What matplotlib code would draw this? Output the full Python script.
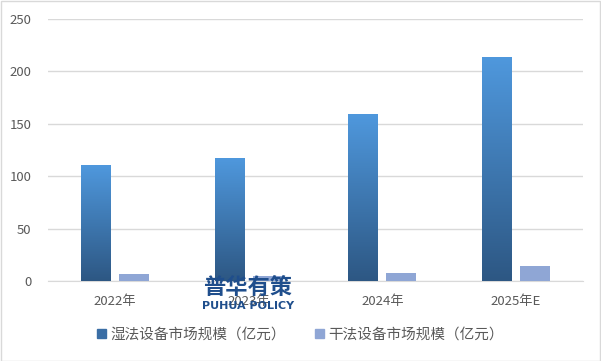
import numpy as np
import matplotlib.pyplot as plt
from matplotlib.colors import LinearSegmentedColormap
from matplotlib.patches import Rectangle

plt.rcParams["font.family"] = ["Noto Sans CJK SC", "DejaVu Sans"]

# -------------------- Data --------------------
years = ["2022年", "2023年", "2024年", "2025年E"]
wet_values = [110, 117, 159, 213]
dry_values = [7, 5, 8, 14.5]
wet_label = "湿法设备市场规模（亿元）"
dry_label = "干法设备市场规模（亿元）"
y_ticks = [0, 50, 100, 150, 200, 250]

# -------------------- Style --------------------
W, H, DPI = 601, 361, 100
BAR_W = 0.224
OFFSET = 0.142
WET_TOP = "#4f98dd"
WET_BOTTOM = "#2d5783"
DRY_COLOR = "#8fa6d5"
GRID_COLOR = "#d9d9d9"
TEXT_COLOR = "#595959"

fig = plt.figure(figsize=(W / DPI, H / DPI), dpi=DPI)
ax = fig.add_axes([48 / W, 1 - 281 / H, (583 - 48) / W, (281 - 19) / H])

x = np.arange(len(years))
grad = LinearSegmentedColormap.from_list("wet", [WET_BOTTOM, WET_TOP])
gradient = np.linspace(0, 1, 256).reshape(-1, 1)

# wet bars: vertical gradient, dark at the bottom, light at the top of each bar
wet_bars = ax.bar(x - OFFSET, wet_values, BAR_W, color="none", zorder=3)
for b in wet_bars:
    x0, w, h = b.get_x(), b.get_width(), b.get_height()
    ax.imshow(gradient, cmap=grad, origin="lower", aspect="auto",
              extent=[x0, x0 + w, 0, h], zorder=3)
ax.bar(x + OFFSET, dry_values, BAR_W, color=DRY_COLOR, zorder=3)

ax.set_xlim(-0.5, len(years) - 0.5)
ax.set_ylim(0, 250)
ax.set_yticks(y_ticks)
ax.set_xticks(x)
ax.set_xticklabels(years)
ax.tick_params(axis="both", length=0, labelsize=9.5, colors=TEXT_COLOR)
ax.tick_params(axis="x", pad=10)
ax.tick_params(axis="y", pad=12)
ax.grid(axis="y", color=GRID_COLOR, linewidth=1)
ax.set_axisbelow(True)
for s in ["left", "right", "top"]:
    ax.spines[s].set_visible(False)
ax.spines["bottom"].set_color(GRID_COLOR)

# legend
wet_handle = Rectangle((0, 0), 1, 1, color="#3a6ea5")
dry_handle = Rectangle((0, 0), 1, 1, color=DRY_COLOR)
fig.legend([wet_handle, dry_handle], [wet_label, dry_label], loc="center",
           bbox_to_anchor=(0.5, 1 - 335 / H), ncol=2, frameon=False,
           fontsize=10.5, handlelength=0.6, handleheight=0.6, handletextpad=0.3,
           columnspacing=2.0, labelcolor=TEXT_COLOR)

# watermark
fig.text(248 / W, 1 - 287 / H, "普华有策", ha="center", va="center",
         fontsize=16, fontweight="bold", color="#1f4e8c")
fig.text(248 / W, 1 - 306 / H, "PUHUA POLICY", ha="center", va="center",
         fontsize=8, fontweight="bold", color="#1f4e8c", family="DejaVu Sans")

# outer frame
fig.patches.append(Rectangle((0.5 / W, 0.5 / H), 1 - 1.5 / W, 1 - 1.5 / H,
                             transform=fig.transFigure, fill=False,
                             edgecolor=GRID_COLOR, linewidth=1))

fig.savefig("out.png", dpi=DPI)
